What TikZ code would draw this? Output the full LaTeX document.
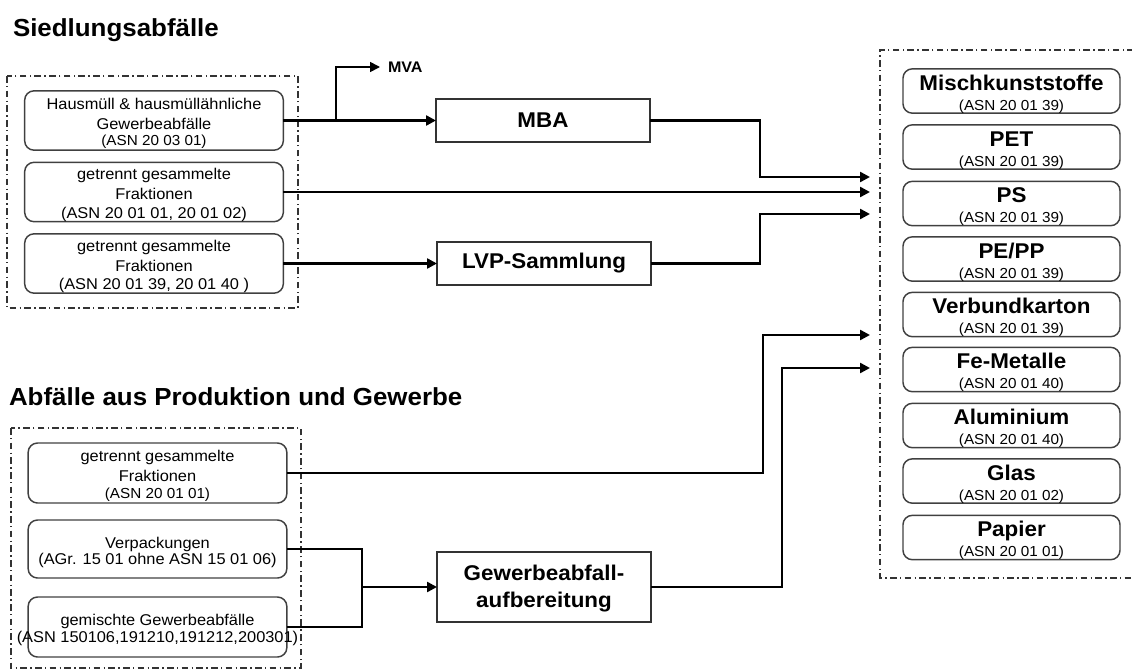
\documentclass[tikz,border=0pt]{standalone}
\usepackage{fontspec}
\setmainfont{Liberation Sans}[FakeStretch=1.05]
\usetikzlibrary{arrows.meta,calc}

% font helpers
\newcommand\asnfont{\fontsize{10.9}{13}\selectfont}
\newcommand\boxtitle{\bfseries\fontsize{16}{18}\selectfont}
% struts that push a text block slightly downwards
\newcommand\topstrut{\rule{0pt}{13pt}}
\newcommand\titlestrut{\rule{0pt}{16pt}}

\begin{document}
\begin{tikzpicture}[x=0.75pt,y=-0.75pt,
  every node/.style={inner sep=0pt, outer sep=0pt},
  heading/.style={anchor=west, font=\bfseries\fontsize{18.5}{22}\selectfont},
  srcbox/.style={draw=black!75, line width=1.1pt, rounded corners=7pt,
    minimum width=194pt, minimum height=44.5pt, align=center,
    font=\fontsize{11.7}{15}\selectfont},
  procbox/.style={draw=black!80, line width=1.1pt, fill=white,
    minimum width=160.5pt, minimum height=32.25pt, align=center,
    font=\bfseries\fontsize{16}{20}\selectfont},
  fracbox/.style={draw=black!75, line width=1.1pt, rounded corners=7pt,
    minimum width=162.75pt, minimum height=33pt, align=center,
    font=\fontsize{11}{15}\selectfont},
  groupframe/.style={draw=black!80, line width=1pt,
    dash pattern=on 5pt off 2.5pt on 1pt off 2.5pt},
  flow/.style={draw=black, line width=1.8pt,
    -{Triangle[length=7.5pt,width=7.5pt]}},
  flowline/.style={draw=black, line width=1.8pt},
]
\useasboundingbox (0,0) rectangle (1132,671);

% ---- headings ----
\node[heading] (t1) at (13,30) {Siedlungsabfälle};
\node[heading] (t2) at (9,397) {Abfälle aus Produktion und Gewerbe};

% ---- group frames ----
\draw[groupframe] (7,76) rectangle (298,308);
\draw[groupframe] (11,428) rectangle (301,668);
\draw[groupframe] (1134,50) -- (880,50) -- (880,578) -- (1134,578);

% ---- municipal waste sources ----
\node[srcbox] (h1) at (154,120.5)
  {\topstrut Hausmüll \& hausmüllähnliche\\Gewerbeabfälle\\[-2.5pt]{\asnfont (ASN 20 03 01)}};
\node[srcbox] (h2) at (154,192)
  {\topstrut getrennt gesammelte\\Fraktionen\\[-1pt](ASN 20 01 01, 20 01 02)};
\node[srcbox] (h3) at (154,263.5)
  {\topstrut getrennt gesammelte\\Fraktionen\\[-1pt](ASN 20 01 39, 20 01 40 )};

% ---- commercial waste sources ----
\node[srcbox, minimum height=45pt] (pA) at (157.5,473)
  {\topstrut getrennt gesammelte\\Fraktionen\\[-2.5pt]{\asnfont (ASN 20 01 01)}};
\node[srcbox, minimum height=43.5pt] (pB) at (157.5,549)
  {\topstrut Verpackungen\\[-3pt](AGr. 15 01 ohne ASN 15 01 06)};
\node[srcbox, minimum height=45pt] (pC) at (157.5,627)
  {\topstrut gemischte Gewerbeabfälle\\[-2pt]\makebox[180pt][c]{(ASN 150106,191210,191212,200301)}};

% ---- treatment steps ----
\node[procbox] (mba) at (543,120.5) {MBA};
\node[procbox] (lvp) at (544,263.5) {LVP-Sammlung};
\node[procbox, minimum height=52.5pt] (gew) at (544,587)
  {\rule{0pt}{14pt}Gewerbeabfall-\\aufbereitung};
\node[anchor=west, font=\bfseries\fontsize{11.5}{13}\selectfont] (mva) at (388,67) {MVA};

% ---- fractions ----
\node[fracbox] (f1) at (1011.5,91)    {\titlestrut{\boxtitle Mischkunststoffe}\\{\asnfont (ASN 20 01 39)}};
\node[fracbox] (f2) at (1011.5,147)   {\titlestrut{\boxtitle PET}\\{\asnfont (ASN 20 01 39)}};
\node[fracbox] (f3) at (1011.5,203.5) {\titlestrut{\boxtitle PS}\\{\asnfont (ASN 20 01 39)}};
\node[fracbox] (f4) at (1011.5,259)   {\titlestrut{\boxtitle PE/PP}\\{\asnfont (ASN 20 01 39)}};
\node[fracbox] (f5) at (1011.5,314.5) {\titlestrut{\boxtitle Verbundkarton}\\{\asnfont (ASN 20 01 39)}};
\node[fracbox] (f6) at (1011.5,369.5) {\titlestrut{\boxtitle Fe-Metalle}\\{\asnfont (ASN 20 01 40)}};
\node[fracbox] (f7) at (1011.5,425.5) {\titlestrut{\boxtitle Aluminium}\\{\asnfont (ASN 20 01 40)}};
\node[fracbox] (f8) at (1011.5,481)   {\titlestrut{\boxtitle Glas}\\{\asnfont (ASN 20 01 02)}};
\node[fracbox] (f9) at (1011.5,537.5) {\titlestrut{\boxtitle Papier}\\{\asnfont (ASN 20 01 01)}};

% ---- inlets at the fraction frame ----
\coordinate (inA) at (870,177);
\coordinate (inB) at (870,192);
\coordinate (inC) at (870,214);
\coordinate (inD) at (870,335);
\coordinate (inE) at (870,368);
\coordinate (mvaj) at (336,120.5);
\coordinate (gj) at (362,587);

% ---- flows ----
\draw[flow] (h1.east) -- (mba.west);
\draw[flow, line width=1.3pt, shorten >=6pt] (mvaj) |- (mva.west);
\draw[flow] (mba.east) -- ++(110,0) |- (inA);
\draw[flow] (h2.east) -- (inB);
\draw[flow] (h3.east) -- (lvp.west);
\draw[flow] (lvp.east) -- ++(109,0) |- (inC);
\draw[flow] (pA.east) -- ++(476,0) |- (inD);
\draw[flowline] (pB.east) -| (gj);
\draw[flowline] (pC.east) -| (gj);
\draw[flow] (gj) -- (gew.west);
\draw[flow] (gew.east) -- ++(131,0) |- (inE);
\end{tikzpicture}
\end{document}
